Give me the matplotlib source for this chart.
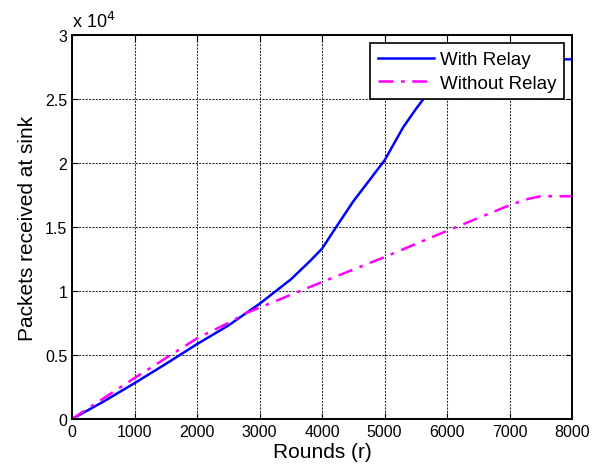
import matplotlib
matplotlib.use('Agg')
import matplotlib.pyplot as plt
from matplotlib.ticker import FuncFormatter

# Packets received at sink vs rounds
rounds_relay = [0, 500, 1000, 1500, 2000, 2500, 3000, 3500, 3800, 4000, 4200,
                4500, 5000, 5300, 5500, 5700, 5900, 6100, 6300, 6500, 8000]
packets_relay = [0, 1350, 2800, 4300, 5850, 7300, 9000, 10900, 12300, 13300, 14800,
                 17000, 20200, 22800, 24200, 25500, 26700, 27600, 28000, 28100, 28100]

rounds_norelay = [0, 1000, 2000, 2500, 2800, 3000, 4000, 5000, 6000, 7000, 7300, 7500, 8000]
packets_norelay = [0, 3200, 6300, 7500, 8300, 8700, 10700, 12650, 14700, 16700, 17200, 17400, 17400]

plt.rcParams['font.family'] = ['Liberation Sans', 'DejaVu Sans']

fig = plt.figure(figsize=(5.93, 4.77), dpi=100)
ax = fig.add_axes([72 / 593, 57 / 477, 500 / 593, 384 / 477])

ax.plot(rounds_relay, packets_relay, color='#0000ff', lw=1.8, label='With Relay')
ax.plot(rounds_norelay, packets_norelay, color='#ff00ff', lw=1.8, ls=(0, (6, 3, 1.5, 3)),
        label='Without Relay')

ax.set_xlim(0, 8000)
ax.set_ylim(0, 30000)
ax.set_xticks(range(0, 8001, 1000))
ax.set_yticks(range(0, 30001, 5000))
ax.yaxis.set_major_formatter(FuncFormatter(lambda v, p: f'{v / 1e4:g}'))
ax.tick_params(direction='in', top=True, right=True, labelsize=11.5, length=4, width=0.8)
ax.grid(True, color='#222222', ls=(0, (1.9, 1.3)), lw=0.75)
for s in ax.spines.values():
    s.set_linewidth(1.4)

ax.text(0.0, 1.01, r'x 10$^{4}$', transform=ax.transAxes, fontsize=13, va='bottom', ha='left')

ax.set_xlabel('Rounds (r)', fontsize=15, labelpad=2)
ax.set_ylabel('Packets received at sink', fontsize=15, labelpad=6)

leg = ax.legend(loc='upper right', fontsize=13.5, fancybox=False, framealpha=1,
                edgecolor='black', borderaxespad=0.45, handlelength=3.0,
                handletextpad=0.3, labelspacing=0.35, borderpad=0.4)
leg.get_frame().set_linewidth(1.2)

fig.savefig('out.png', dpi=100)
